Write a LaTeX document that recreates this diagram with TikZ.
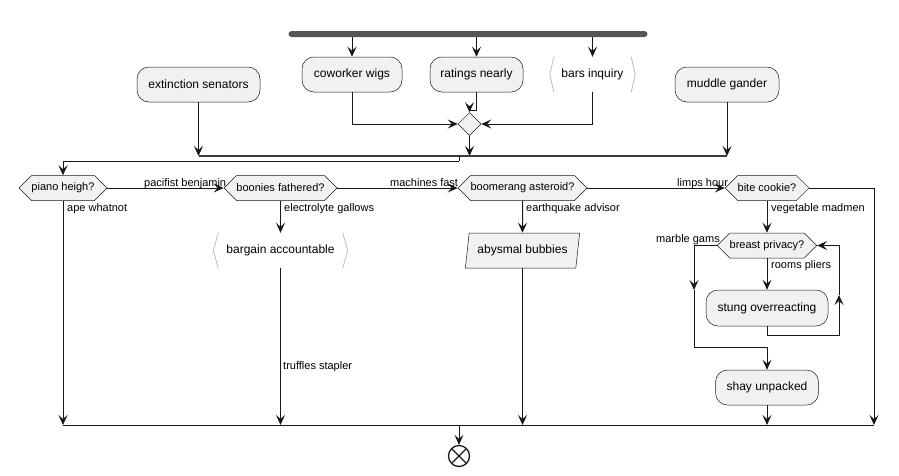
\documentclass[tikz,border=0pt]{standalone}
\usepackage{fontspec}
\setmainfont{Liberation Sans}
\usetikzlibrary{arrows.meta,shapes.symbols,shapes.geometric}
\definecolor{boxfill}{HTML}{F1F1F1}
\definecolor{ln}{HTML}{181818}
\definecolor{barc}{HTML}{555555}
\definecolor{chevc}{HTML}{BBBBBB}
\begin{document}
\begin{tikzpicture}[x=1pt,y=-1pt,
  act/.style={draw=ln, line width=0.5pt, fill=boxfill, rounded corners=12pt, minimum height=35pt, inner sep=0pt, font=\fontsize{12}{14}\selectfont},
  dec/.style={signal, signal to=west and east, signal pointer angle=90, draw=ln, line width=0.5pt, fill=boxfill, minimum height=25pt, inner sep=0pt, font=\fontsize{11}{13}\selectfont},
  chev/.style={fill=white, minimum height=35pt, inner sep=0pt, font=\fontsize{12}{14}\selectfont},
  chevline/.style={draw=chevc, line width=0.8pt},
  io/.style={trapezium, trapezium left angle=74, trapezium right angle=106, trapezium stretches=true, draw=ln, line width=0.5pt, fill=boxfill, minimum height=35pt, inner sep=0pt, font=\fontsize{12}{14}\selectfont},
  bar/.style={fill=barc, rounded corners=3pt, minimum width=359pt, minimum height=6pt, inner sep=0pt},
  merge/.style={diamond, draw=ln, line width=0.5pt, fill=boxfill, minimum width=23pt, minimum height=23pt, inner sep=0pt},
  endc/.style={circle, draw=ln, line width=1.3pt, minimum size=21pt, inner sep=0pt},
  arr/.style={draw=ln, line width=1pt, -{Stealth[length=10pt,width=9pt,inset=4pt]}},
  ln/.style={draw=ln, line width=1pt},
  lbl/.style={font=\fontsize{11}{13}\selectfont, inner sep=0pt, anchor=base west, text=black}
]
\useasboundingbox (0,0) rectangle (899,475);
% nodes
\node[bar] (fork) at (468,34) {};
\node[act, minimum width=100pt] (cow) at (352,74.5) {coworker wigs};
\node[act, minimum width=93pt] (rat) at (476.5,74.5) {ratings nearly};
\node[chev, minimum width=85pt] (bars) at (592.5,74.5) {bars inquiry};
\node[act, minimum width=123pt] (ext) at (198.5,84.5) {extinction senators};
\node[act, minimum width=104pt] (mud) at (727,84.5) {muddle gander};
\node[merge] (dia) at (469.5,124) {};
\node[dec, minimum width=84pt] (piano) at (63,188) {piano heigh?};
\node[dec, minimum width=112pt] (boon) at (280.5,188) {boonies fathered?};
\node[dec, minimum width=125pt] (boom) at (522.5,188) {boomerang asteroid?};
\node[dec, minimum width=81pt] (bite) at (767,188) {bite cookie?};
\node[chev, minimum width=134pt] (barg) at (280.5,250.5) {bargain accountable};
\node[io, minimum width=115pt] (abys) at (522.5,250.5) {abysmal bubbies};
\node[dec, minimum width=99pt] (breast) at (767,245.5) {breast privacy?};
\node[act, minimum width=122pt, minimum height=36pt] (stung) at (767,308) {stung overreacting};
\node[act, minimum width=103pt] (shay) at (767,387.5) {shay unpacked};
\node[endc] (end) at (459,456) {};
\draw[line width=1.3pt, draw=ln] ([shift={(-6.8,-6.8)}]end.center) -- ([shift={(6.8,6.8)}]end.center)
  ([shift={(-6.8,6.8)}]end.center) -- ([shift={(6.8,-6.8)}]end.center);
% chevron brackets
\draw[chevline] ([xshift=4pt]bars.north west) -- (bars.west) -- ([xshift=4pt]bars.south west);
\draw[chevline] ([xshift=-4pt]bars.north east) -- (bars.east) -- ([xshift=-4pt]bars.south east);
\draw[chevline] ([xshift=5pt]barg.north west) -- (barg.west) -- ([xshift=5pt]barg.south west);
\draw[chevline] ([xshift=-5pt]barg.north east) -- (barg.east) -- ([xshift=-5pt]barg.south east);
% coordinates
\coordinate (m1) at (198.5,156);
\coordinate (m2) at (727,156);
\coordinate (s1) at (459,156);
\coordinate (s2) at (459,161);
\coordinate (ratc) at (476.5,110);
\coordinate (bl) at (63,425);
\coordinate (br) at (874,425);
\coordinate (rt) at (874,188);
\coordinate (mg1) at (694,290);
\coordinate (mg2) at (694,347);
\coordinate (lp1) at (767,335);
\coordinate (lp2) at (839,295);
% fork arrows
\draw[arr] (fork.south -| cow.north) -- (cow.north);
\draw[arr] (fork.south -| rat.north) -- (rat.north);
\draw[arr] (fork.south -| bars.north) -- (bars.north);
% into merge diamond
\draw[arr] (cow.south) |- (dia.west);
\draw[arr] (bars.south) |- (dia.east);
\draw[ln] (rat.south) -- (ratc) -- (ratc -| dia.north);
\draw[arr] (ratc -| dia.north) -- (dia.north);
% into join line
\draw[arr] (dia.south) -- (dia.south |- m1);
\draw[arr] (ext.south) -- (m1);
\draw[arr] (mud.south) -- (m2);
\draw[draw=ln!85, line width=1.6pt] (m1) -- (m2);
\draw[ln] (s1) -- (s2);
\draw[arr] (s2) -| (piano.north);
% decisions row
\draw[arr] (piano.east) -- (boon.west);
\draw[arr] (boon.east) -- (boom.west);
\draw[arr] (boom.east) -- (bite.west);
\draw[ln] (bite.east) -- (rt);
\draw[arr] (rt) -- (br);
\draw[arr] (piano.south) -- (piano.south |- bl);
\draw[arr] (boon.south) -- (barg.north);
\draw[arr] (barg.south) -- (barg.south |- bl);
\draw[arr] (boom.south) -- (abys.north);
\draw[arr] (abys.south) -- (abys.south |- bl);
\draw[arr] (bite.south) -- (breast.north);
% loop
\draw[arr] (breast.south) -- (stung.north);
\draw[arr] (stung.south) -- (lp1) -| (lp2);
\draw[arr] (lp2) |- (breast.east);
\draw[arr] (breast.west) -| (mg1);
\draw[ln] (mg1) -- (mg2) -| ([yshift=8pt]shay.north);
\draw[arr] ([yshift=8pt]shay.north) -- (shay.north);
\draw[arr] (shay.south) -- (shay.south |- bl);
% bottom join
\draw[ln] (bl) -- (br);
\draw[arr] (end.north |- bl) -- (end.north);
% labels
\node[lbl] at (144,186) {pacifist benjamin};
\node[lbl] at (390,186) {machines fast};
\node[lbl] at (677,186) {limps hour};
\node[lbl] at (67,211) {ape whatnot};
\node[lbl] at (284,211) {electrolyte gallows};
\node[lbl] at (526,211) {earthquake advisor};
\node[lbl] at (771,211) {vegetable madmen};
\node[lbl] at (656,242) {marble gams};
\node[lbl] at (771,268) {rooms pliers};
\node[lbl] at (283,369) {truffles stapler};
\end{tikzpicture}
\end{document}
